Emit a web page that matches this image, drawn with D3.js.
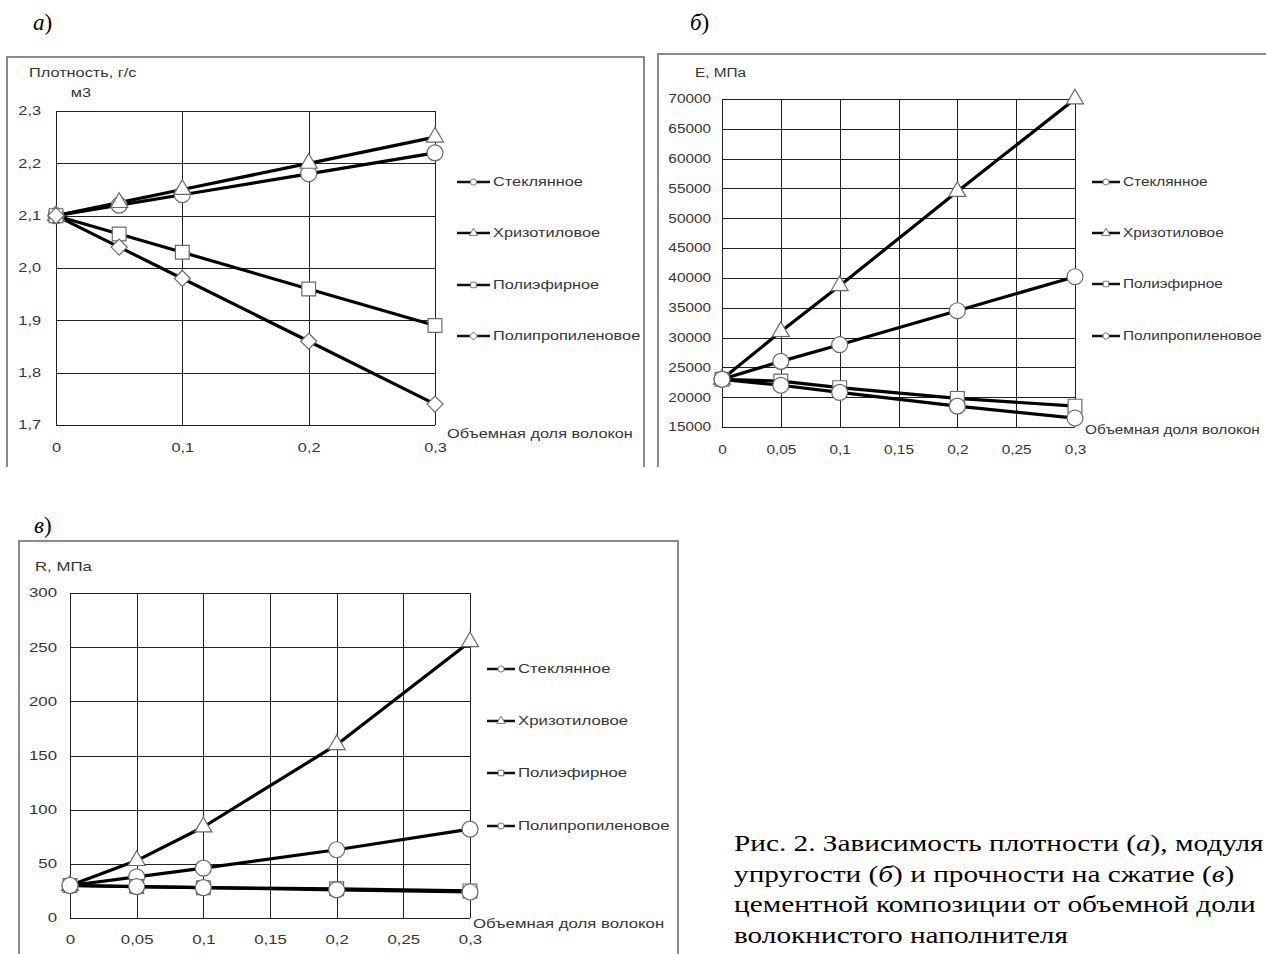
<!DOCTYPE html>
<html>
<head>
<meta charset="utf-8">
<script src="https://cdn.jsdelivr.net/npm/d3@7"></script>
<style>
  body { margin: 0; background: #fff; }
</style>
</head>
<body>
<svg id="fig" width="1266" height="954"></svg>
<script>
// x values - volume fraction of fibres
var fractions = [0, 0.05, 0.1, 0.2, 0.3];
var seriesNames = ["Стеклянное", "Хризотиловое", "Полиэфирное", "Полипропиленовое"];

// (a) density, g/cm3
var densGlass = [2.10, 2.12, 2.14, 2.18, 2.22];
var densChrys = [2.10, 2.125, 2.15, 2.20, 2.25];
var densPoly  = [2.10, 2.065, 2.03, 1.96, 1.89];
var densPP    = [2.10, 2.04, 1.98, 1.86, 1.74];
var densTicks = [1.7, 1.8, 1.9, 2.0, 2.1, 2.2, 2.3];
var densXTicks = [0, 0.1, 0.2, 0.3];

// (б) modulus E, MPa
var eGlass = [23000, 26000, 28800, 34500, 40200];
var eChrys = [23000, 31000, 38700, 54500, 70000];
var ePoly  = [23000, 22700, 21600, 19800, 18500];
var ePP    = [23000, 22000, 20800, 18500, 16500];
var eTicks = [15000, 20000, 25000, 30000, 35000, 40000, 45000, 50000, 55000, 60000, 65000, 70000];

// (в) compressive strength R, MPa
var rGlass = [30, 38, 46, 63, 82];
var rChrys = [30, 53, 84, 160, 255];
var rPoly  = [30, 29, 28, 27, 25];
var rPP    = [30, 29, 28, 26, 24];
var rTicks = [0, 50, 100, 150, 200, 250, 300];
var fineXTicks = [0, 0.05, 0.1, 0.15, 0.2, 0.25, 0.3];

var captionLines = [
  ["Рис. 2. Зависимость плотности (", "а", "), модуля"],
  ["упругости (", "б", ") и прочности на сжатие (", "в", ")"],
  ["цементной композиции от объемной доли"],
  ["волокнистого наполнителя"]
];

var svg = d3.select("#fig");
var comma = function(d){ return String(d).replace(".", ","); };
var SANS = "'Liberation Sans', Arial, sans-serif";
var SERIF = "'Liberation Serif', 'Times New Roman', serif";
var TXT = "#353535";

function symbolPath(kind, big){
  if (kind == "diamond") {
    var r = big ? 8 : 4;
    return "M0," + (-r) + "L" + r + ",0L0," + r + "L" + (-r) + ",0Z";
  }
  var t = kind == "circle" ? d3.symbolCircle : kind == "triangle" ? d3.symbolTriangle : d3.symbolSquare;
  var sz = big ? (kind == "triangle" ? 125 : kind == "square" ? 190 : 200) : 30;
  return d3.symbol().type(t).size(sz)();
}

function label(g, x, y, str, sx, anchor){
  return g.append("text")
    .attr("transform", "translate(" + x + "," + y + ") scale(" + sx + ",1)")
    .attr("text-anchor", anchor || "start")
    .style("font-family", SANS).style("font-size", "12px").style("fill", TXT)
    .text(str);
}

function panel(p){
  var g = svg.append("g");
  // chart area frame
  g.append("path")
    .attr("d", p.frame)
    .attr("fill", "none").attr("stroke", "#8a8a8a").attr("stroke-width", 2);

  var x = d3.scaleLinear().domain([0, 0.3]).range([p.left, p.right]);
  var y = d3.scaleLinear().domain(p.ydom).range([p.bottom, p.top]);

  // grid
  g.selectAll(".hg").data(p.yticks).enter().append("line")
    .attr("x1", p.left).attr("x2", p.right)
    .attr("y1", function(d){ return Math.round(y(d)) + 0.5; })
    .attr("y2", function(d){ return Math.round(y(d)) + 0.5; })
    .attr("stroke", "#222").attr("stroke-width", 1);
  g.selectAll(".vg").data(p.xticks).enter().append("line")
    .attr("y1", p.top).attr("y2", p.bottom)
    .attr("x1", function(d){ return Math.round(x(d)) + 0.5; })
    .attr("x2", function(d){ return Math.round(x(d)) + 0.5; })
    .attr("stroke", "#222").attr("stroke-width", 1);

  // tick labels through d3 axes
  var ya = d3.axisLeft(y).tickValues(p.yticks).tickSize(0).tickPadding(p.ypad).tickFormat(p.yfmt);
  var yg = g.append("g").attr("transform", "translate(" + p.left + ",0)").call(ya);
  var xa = d3.axisBottom(x).tickValues(p.xticks).tickSize(0).tickPadding(p.xpad).tickFormat(comma);
  var xg = g.append("g").attr("transform", "translate(0," + p.bottom + ")").call(xa);
  [yg, xg].forEach(function(a){
    a.select(".domain").remove();
    a.attr("font-size", null).attr("font-family", null);
    a.selectAll("text").style("font-size", "12px").style("fill", TXT).style("font-family", SANS)
      .attr("transform", "scale(" + p.sx + ",1)");
  });
  yg.selectAll("text").attr("x", -p.ypad / p.sx);

  // titles
  p.titles.forEach(function(t){ label(g, t[0], t[1], t[2], p.sx, t[3]); });

  // lines
  var line = d3.line().x(function(d, i){ return x(fractions[i]); }).y(function(d){ return y(d); });
  p.series.forEach(function(s){
    g.append("path").datum(s).attr("d", line)
      .attr("fill", "none").attr("stroke", "#000").attr("stroke-width", 3.2)
      .attr("stroke-linejoin", "round");
  });
  // markers
  p.series.forEach(function(s, k){
    g.selectAll(null).data(s).enter().append("path")
      .attr("d", symbolPath(p.symbols[k], true))
      .attr("transform", function(d, i){ return "translate(" + x(fractions[i]) + "," + y(d) + ")"; })
      .attr("fill", "#fff").attr("stroke", "#6a6a6a").attr("stroke-width", 1.2);
  });

  // legend
  seriesNames.forEach(function(name, k){
    var ly = p.legY[k];
    g.append("line").attr("x1", p.legX).attr("x2", p.legX + p.legW).attr("y1", ly).attr("y2", ly)
      .attr("stroke", "#111").attr("stroke-width", 2.5);
    g.append("path").attr("d", symbolPath(p.symbols[k], false))
      .attr("transform", "translate(" + (p.legX + p.legW / 2) + "," + ly + ")")
      .attr("fill", "#fff").attr("stroke", "#777").attr("stroke-width", 1);
    label(g, p.legX + p.legW + 3, ly + 4, name, p.sx);
  });
}

panel({
  frame: "M7,467 L7,57 L644,57 L644,467",
  left: 56, right: 435, top: 111, bottom: 425,
  ydom: [1.7, 2.3], yticks: densTicks, xticks: densXTicks,
  yfmt: function(d){ return d3.format(".1f")(d).replace(".", ","); },
  ypad: 15, xpad: 18, sx: 1.36,
  series: [densGlass, densChrys, densPoly, densPP],
  symbols: ["circle", "triangle", "square", "diamond"],
  titles: [[29, 77, "Плотность, г/с"], [81, 97, "м3", "middle"], [447, 438, "Объемная доля волокон"]],
  legX: 457, legW: 33, legY: [182, 233, 285, 336]
});

panel({
  frame: "M658,467 L658,54 L1266,54",
  left: 722, right: 1075, top: 99, bottom: 427,
  ydom: [15000, 70000], yticks: eTicks, xticks: fineXTicks,
  yfmt: function(d){ return String(d); },
  ypad: 11, xpad: 18, sx: 1.28,
  series: [eGlass, eChrys, ePoly, ePP],
  symbols: ["circle", "triangle", "square", "circle"],
  titles: [[695, 77, "E, МПа"], [1085, 434, "Объемная доля волокон"]],
  legX: 1092, legW: 28, legY: [182, 233, 284, 336]
});

panel({
  frame: "M19,954 L19,541 L678,541 L678,954",
  left: 70, right: 470, top: 593, bottom: 918,
  ydom: [0, 300], yticks: rTicks, xticks: fineXTicks,
  yfmt: function(d){ return String(d); },
  ypad: 13, xpad: 17, sx: 1.4,
  series: [rGlass, rChrys, rPoly, rPP],
  symbols: ["circle", "triangle", "square", "circle"],
  titles: [[35, 571, "R, МПа"], [473, 928, "Объемная доля волокон"]],
  legX: 487, legW: 28, legY: [669, 721, 773, 826]
});

// panel letters
[["а", 33, 30], ["б", 690, 30], ["в", 34, 533]].forEach(function(l){
  var t = svg.append("text").attr("x", l[1]).attr("y", l[2])
    .style("font-family", SERIF).style("font-size", "23px").style("fill", "#000");
  t.append("tspan").style("font-style", "italic").text(l[0]);
  t.append("tspan").text(")");
});

// caption (slightly widened like the scanned original)
captionLines.forEach(function(parts, i){
  var t = svg.append("text")
    .attr("transform", "translate(734," + (851 + i * 30.7) + ") scale(1.22,1)")
    .style("font-family", SERIF).style("font-size", "24px").style("fill", "#000");
  parts.forEach(function(s, j){
    t.append("tspan").style("font-style", (j % 2 == 1) ? "italic" : "normal").text(s);
  });
});
</script>
</body>
</html>
